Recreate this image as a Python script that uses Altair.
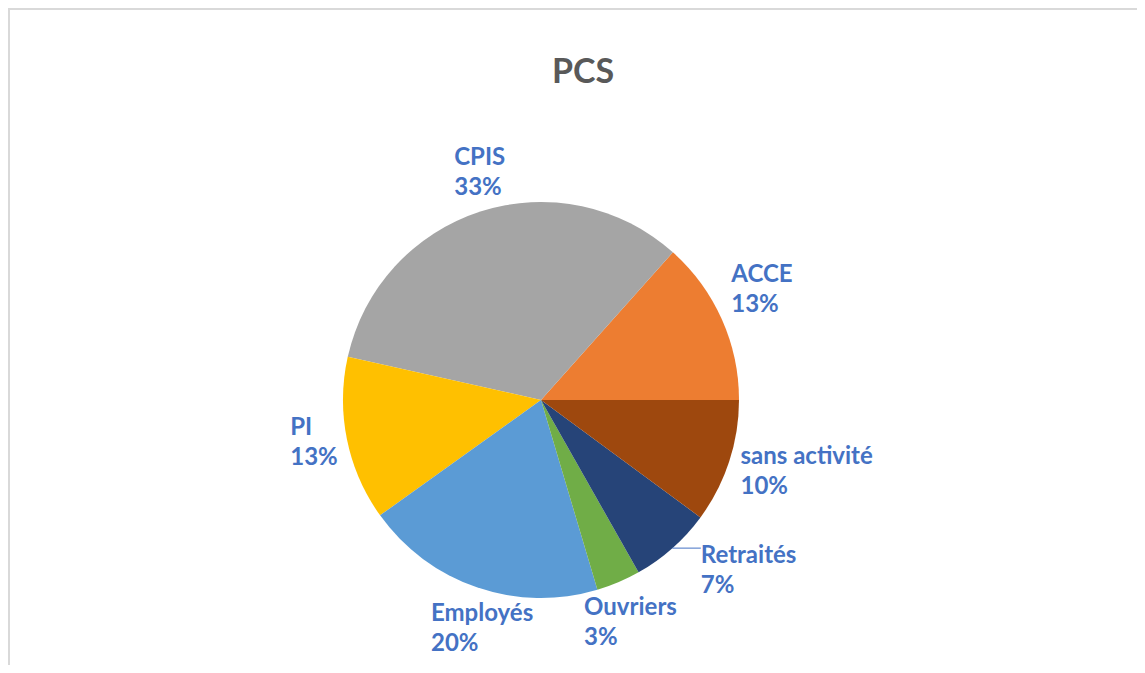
import math
import altair as alt
import pandas as pd

# ---- data ----
categories = ["ACCE", "CPIS", "PI", "Employés", "Ouvriers", "Retraités", "sans activité"]
values = [13.4, 33.1, 13.4, 19.7, 3.6, 6.7, 10.1]
pct_labels = ["13%", "33%", "13%", "20%", "3%", "7%", "10%"]
colors = ["#ED7D31", "#A5A5A5", "#FFC000", "#5B9BD5", "#70AD47", "#264478", "#9E480E"]

df = pd.DataFrame({"cat": categories, "value": values, "pct": pct_labels,
                   "idx": list(range(len(categories)))})

# ---- layout ----
W, H = 1129, 657
CX, CY, R = 533, 392, 198
RL = R + 12
FONT = "Lato"
LABEL_COLOR = "#4472C4"
# label moved away from its default spot (with a leader line), as in the reference
label_nudge = {"Retraités": (43, -11)}

nx_expr = " : ".join([f"datum.cat === '{k}' ? {v[0]}" for k, v in label_nudge.items()] + ["0"])
ny_expr = " : ".join([f"datum.cat === '{k}' ? {v[1]}" for k, v in label_nudge.items()] + ["0"])
moved_expr = " || ".join([f"datum.cat === '{k}'" for k in label_nudge] ) or "false"

base = alt.Chart(df)

pie = base.mark_arc(outerRadius=R).encode(
    theta=alt.Theta("value:Q", stack=True,
                    scale=alt.Scale(range=[math.pi / 2, math.pi / 2 + 2 * math.pi])),
    color=alt.Color("cat:N", scale=alt.Scale(domain=categories, range=colors), legend=None),
    order=alt.Order("idx:Q", sort="descending"),
    x=alt.value(CX),
    y=alt.value(CY),
)

lab = base.transform_joinaggregate(
    total="sum(value)"
).transform_window(
    cum="sum(value)", sort=[alt.SortField("idx", order="descending")], frame=[None, 0]
).transform_calculate(
    m="(datum.cum - datum.value / 2) / datum.total * 2 * PI",
    c="cos(datum.m)",
    s="sin(datum.m)",
    ax=f"{CX} + {RL} * datum.c",
    ay=f"{CY} + {RL} * datum.s",
    px=f"{CX} + {R} * datum.c",
    py=f"{CY} + {R} * datum.s",
    w="max(length(datum.cat) * 10.5, length(datum.pct) * 15)",
    g="(datum.c < 0 ? -1 : 1) * clamp((abs(datum.c) - 0.35) / 0.6, 0, 1)",
    lx=f"datum.ax + datum.w / 2 * datum.g - datum.w / 2 + ({nx_expr})",
    ly=f"datum.ay + 28.5 * clamp(1.5 * datum.s - 0.3, -1, 1) + ({ny_expr})",
    txt="datum.cat + '\\n' + datum.pct",
)

labels = lab.mark_text(
    align="left", baseline="alphabetic", dy=-6.5, lineHeight=30, lineBreak="\n",
    font=FONT, fontSize=24, fontWeight="bold", color=LABEL_COLOR,
).encode(
    x=alt.X("lx:Q", scale=None),
    y=alt.Y("ly:Q", scale=None),
    text="txt:N",
)

leader = lab.transform_filter(moved_expr).mark_rule(
    color=LABEL_COLOR, strokeWidth=1
).encode(
    x=alt.X("px:Q", scale=None),
    x2="lx:Q",
    y=alt.Y("py:Q", scale=None),
    y2="py:Q",
)

title = alt.Chart(pd.DataFrame({"t": ["PCS"]})).mark_text(
    font=FONT, fontSize=34, fontWeight="bold", color="#595959",
    align="center", baseline="alphabetic",
).encode(x=alt.value(575), y=alt.value(75), text="t:N")

one = pd.DataFrame({"k": [0]})
top_border = alt.Chart(one).mark_rule(color="#D9D9D9", strokeWidth=2).encode(
    x=alt.value(0), x2=alt.value(W), y=alt.value(1))
left_border = alt.Chart(one).mark_rule(color="#D9D9D9", strokeWidth=2).encode(
    x=alt.value(1), y=alt.value(0), y2=alt.value(H))

chart = alt.layer(top_border, left_border, pie, leader, labels, title).properties(
    width=W, height=H,
    autosize=alt.AutoSizeParams(type="none"),
    padding=0,
).configure_view(strokeWidth=0)

chart.save("out.html", embed_options={"renderer": "svg", "actions": False})
